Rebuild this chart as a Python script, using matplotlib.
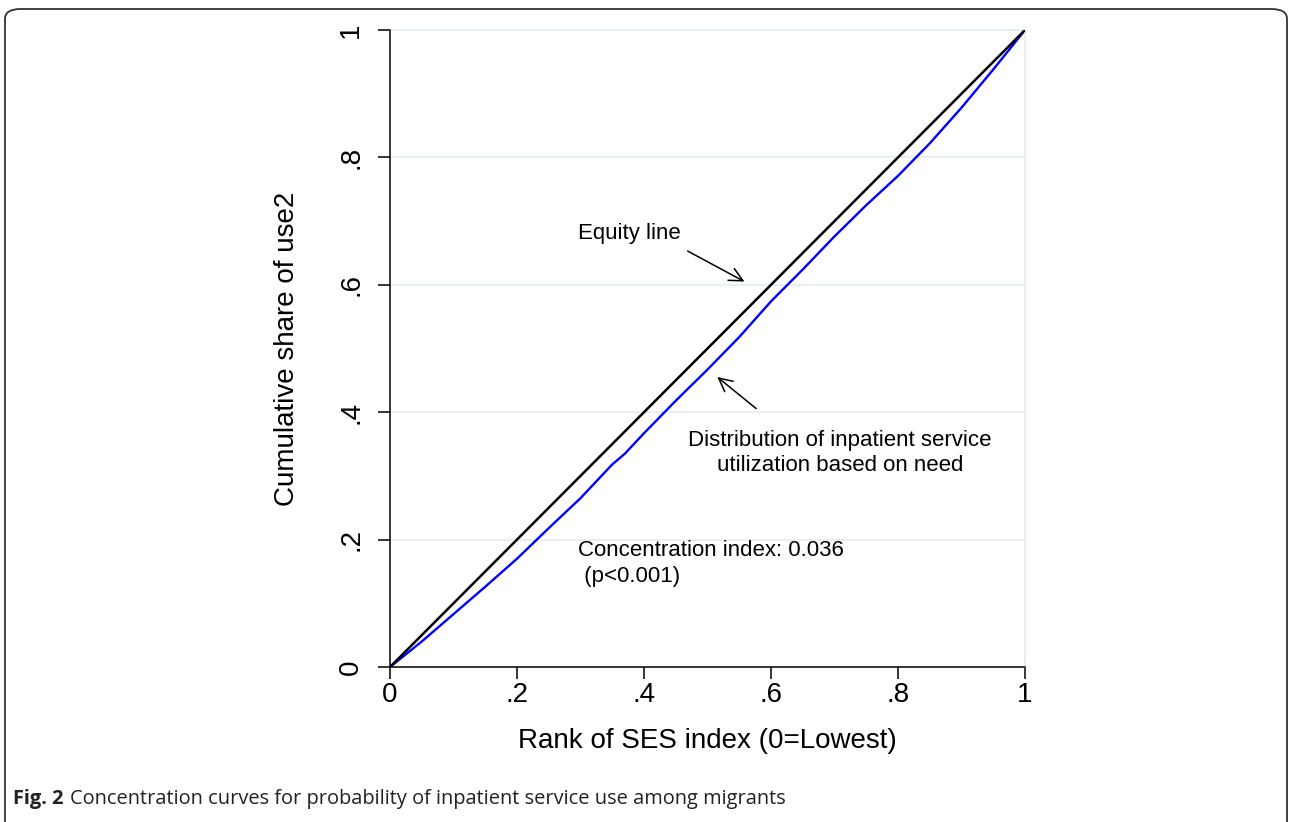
import matplotlib.pyplot as plt
from matplotlib.patches import FancyBboxPatch

plt.rcParams['font.family'] = ['Liberation Sans', 'DejaVu Sans']

# Concentration curve (rank of SES index vs cumulative share)
rank = [0, 0.05, 0.1, 0.15, 0.2, 0.25, 0.3, 0.35, 0.37, 0.4, 0.45, 0.5,
        0.55, 0.6, 0.65, 0.7, 0.75, 0.8, 0.85, 0.9, 0.95, 1.0]
share = [0, 0.040, 0.083, 0.126, 0.170, 0.218, 0.265, 0.318, 0.335, 0.367, 0.418, 0.467,
         0.518, 0.574, 0.624, 0.676, 0.725, 0.771, 0.822, 0.878, 0.938, 1.0]
equity = [0, 1]
ticks = [0, 0.2, 0.4, 0.6, 0.8, 1]
tick_labels = ['0', '.2', '.4', '.6', '.8', '1']

fig = plt.figure(figsize=(12.92, 8.22), dpi=100)
ax = fig.add_axes([390 / 1292, 155 / 822, 635 / 1292, 637 / 822])

grid_col = '#e6eff1'
for t in ticks[1:]:
    ax.axhline(t, color=grid_col, lw=1.3, zorder=0)

ax.plot(rank, share, color='#0000ff', lw=1.7, zorder=2)
ax.plot(equity, equity, color='black', lw=1.8, zorder=3)

ax.set_xlim(0, 1)
ax.set_ylim(0, 1)
ax.set_xticks(ticks)
ax.set_xticklabels(tick_labels, fontsize=20)
ax.set_yticks(ticks)
ax.set_yticklabels(tick_labels, fontsize=20, rotation=90, va='center')
ax.tick_params(axis='both', length=8.5, width=1.1, color='black')
ax.tick_params(axis='y', pad=10)
ax.tick_params(axis='x', pad=2)

for s in ['left', 'bottom']:
    ax.spines[s].set_linewidth(1.1)
for s in ['top', 'right']:
    ax.spines[s].set_color(grid_col)
    ax.spines[s].set_linewidth(1.3)
ax.spines['left'].set_zorder(4)

ax.set_xlabel('Rank of SES index (0=Lowest)', fontsize=20)
ax.set_ylabel('Cumulative share of use2', fontsize=20)
ax.xaxis.set_label_coords(0.5, -0.096)
ax.yaxis.set_label_coords(-0.142, 0.5)

ax.text(0.296, 0.681, 'Equity line', fontsize=16, va='center', ha='left')
ax.annotate('', xy=(0.562, 0.603), xytext=(0.465, 0.655),
            arrowprops=dict(arrowstyle='->', color='black', lw=1.1, mutation_scale=24))
ax.text(0.709, 0.336, 'Distribution of inpatient service\nutilization based on need',
        fontsize=16, ha='center', va='center', linespacing=1.3)
ax.annotate('', xy=(0.512, 0.458), xytext=(0.580, 0.403),
            arrowprops=dict(arrowstyle='->', color='black', lw=1.1, mutation_scale=24))
ax.text(0.296, 0.163, 'Concentration index: 0.036\n (p<0.001)', fontsize=16,
        ha='left', va='center', linespacing=1.3)

# rounded frame around the figure, cut at the bottom
frame = FancyBboxPatch((5 / 1292, -0.1), 1282 / 1292, (822 - 9) / 822 + 0.1,
                       boxstyle='round,pad=0,rounding_size=0.012',
                       transform=fig.transFigure, fill=False, edgecolor='#333333',
                       lw=1.3, clip_on=False)
fig.patches.append(frame)

# caption
cap_y = 0.028
t1 = fig.text(13 / 1292, cap_y, 'Fig. 2', fontsize=14.4, fontweight='bold',
              family=['Open Sans', 'DejaVu Sans'], va='center', color='#222222')
fig.canvas.draw()
bb = t1.get_window_extent().transformed(fig.transFigure.inverted())
fig.text(bb.x1 + 6 / 1292, cap_y,
         'Concentration curves for probability of inpatient service use among migrants',
         fontsize=14.4, family=['Open Sans', 'DejaVu Sans'], va='center', color='#222222')

fig.savefig('out.png', dpi=100)
